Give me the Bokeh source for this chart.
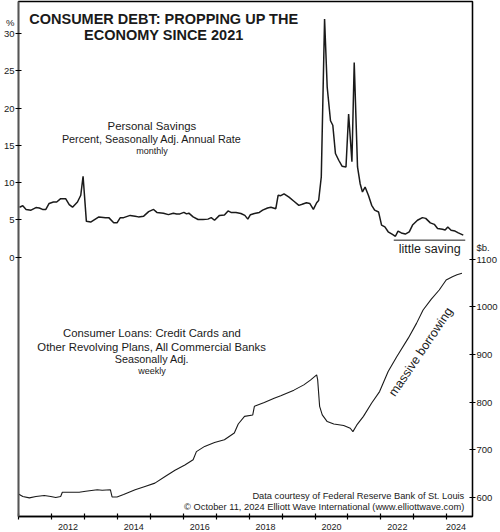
from bokeh.plotting import figure
from bokeh.models import Range1d, LinearAxis, FixedTicker, Label, CustomJSTickFormatter
from bokeh.embed import file_html
from bokeh.resources import INLINE

FONT = "Liberation Sans"
INK = "#1a1a1a"

# personal savings rate, % (monthly)
savings_year = [
    2011.03, 2011.13, 2011.23, 2011.38, 2011.53, 2011.63, 2011.73, 2011.83, 2011.93,
    2012.06, 2012.16, 2012.28, 2012.43, 2012.54, 2012.64, 2012.79, 2012.89, 2012.96,
    2013.06, 2013.19, 2013.44, 2013.64, 2013.74, 2013.89, 2013.99,
    2014.09, 2014.19, 2014.39, 2014.54, 2014.64, 2014.80, 2014.95,
    2015.10, 2015.20, 2015.40, 2015.55, 2015.70, 2015.80, 2015.90,
    2016.02, 2016.10, 2016.17, 2016.30, 2016.45, 2016.60, 2016.75, 2016.85, 2016.95,
    2017.10, 2017.25, 2017.36, 2017.45, 2017.60, 2017.75, 2017.87, 2017.96,
    2018.04, 2018.16, 2018.31, 2018.41, 2018.56, 2018.66, 2018.81, 2018.88, 2018.96,
    2019.06, 2019.21, 2019.36, 2019.51, 2019.61, 2019.74, 2019.84, 2019.95,
    2020.05, 2020.11, 2020.19, 2020.29, 2020.37, 2020.47, 2020.54, 2020.62, 2020.72, 2020.82, 2020.94,
    2021.02, 2021.12, 2021.19, 2021.29, 2021.37, 2021.44, 2021.52, 2021.62, 2021.72, 2021.81, 2021.93,
    2022.02, 2022.12, 2022.22, 2022.35, 2022.44, 2022.52, 2022.62, 2022.74, 2022.86, 2022.96,
    2023.11, 2023.26, 2023.36, 2023.50, 2023.62, 2023.72, 2023.87, 2023.95,
    2024.03, 2024.13, 2024.25, 2024.35, 2024.50,
]
savings_pct = [
    6.7, 6.9, 6.4, 6.3, 6.65, 6.6, 6.4, 6.4, 7.2,
    7.4, 7.4, 7.85, 7.85, 7.05, 6.7, 7.4, 8.3, 10.85,
    4.8, 4.7, 5.4, 5.3, 5.3, 4.6, 4.6,
    5.3, 5.3, 5.6, 5.5, 5.4, 5.5, 6.1,
    6.4, 6.0, 5.9, 5.7, 5.9, 5.8, 5.8,
    6.0, 5.8, 5.9, 5.4, 5.05, 5.05, 5.1, 5.3, 4.95,
    5.6, 5.65, 6.2, 6.0, 6.0, 5.85, 5.6, 5.1,
    5.7, 5.85, 6.0, 6.3, 6.6, 6.7, 6.5, 8.3, 8.25,
    8.5, 8.05, 7.5, 6.95, 7.1, 7.3, 7.2, 6.4,
    7.3, 7.6, 10.75, 31.95, 22.8, 18.3, 17.7, 13.9, 13.0, 12.2, 12.1,
    19.2, 12.8, 26.1, 12.1, 9.85, 8.75, 9.4, 8.3, 6.95, 6.3, 6.05,
    4.3, 4.05, 3.4, 3.05, 2.8, 3.5, 3.25, 3.1, 3.4, 4.3,
    4.95, 5.3, 5.2, 4.6, 4.4, 3.85, 3.75, 3.65,
    4.05, 3.6, 3.5, 3.25, 2.95,
]

# revolving consumer loans, $ billions (weekly)
loans_year = [
    2011.00, 2011.13, 2011.33, 2011.53, 2011.78, 2011.98,
    2012.13, 2012.28, 2012.33, 2012.54, 2012.84,
    2013.04, 2013.39, 2013.54, 2013.79, 2013.84, 2013.99,
    2014.19, 2014.54, 2014.84,
    2015.14, 2015.45, 2015.75,
    2016.05, 2016.30, 2016.40, 2016.65, 2016.95,
    2017.25, 2017.55, 2017.67, 2017.86,
    2018.11, 2018.16, 2018.46, 2018.76, 2018.96,
    2019.36, 2019.66, 2019.86,
    2020.05, 2020.08, 2020.14, 2020.22, 2020.37, 2020.57, 2020.87,
    2021.07, 2021.15, 2021.27, 2021.47, 2021.72, 2021.96,
    2022.22, 2022.48, 2022.83,
    2023.08, 2023.28, 2023.53, 2023.77, 2023.98,
    2024.17, 2024.31, 2024.46,
]
loans_bn = [
    607, 602, 599, 602, 604, 602,
    600, 602, 611, 611, 611,
    613, 616, 615, 616, 601, 601,
    606, 616, 623,
    630, 644, 657,
    668, 679, 696, 707, 715,
    721, 735, 754, 770,
    773, 791, 799, 808, 813,
    825, 836, 846,
    857, 847, 791, 773, 759, 754, 751,
    745, 738, 752, 770, 798, 822,
    864, 895, 934,
    965, 993, 1016, 1035, 1056,
    1063, 1067, 1070,
]

pct_ticks = [0, 5, 10, 15, 20, 25, 30]
bn_ticks = [600, 700, 800, 900, 1000, 1100]
year_ticks = list(range(2011, 2025))
year_labels = [2012, 2014, 2016, 2018, 2020, 2022, 2024]

# unit captions ride on the axes as extra, mark-less ticks
PCT_UNIT_AT = 31.5
BN_UNIT_AT = 1125

p = figure(width=500, height=532, output_backend="svg", toolbar_location=None,
           x_range=Range1d(2011, 2024.78), y_range=Range1d(-34.8, 34.3),
           min_border_top=1, min_border_left=16, min_border_right=27, min_border_bottom=14)
p.extra_y_ranges = {"loans": Range1d(560, 1640)}
p.grid.visible = False
p.outline_line_color = "black"
p.outline_line_width = 1.3
p.outline_line_alpha = 1

# year labels sit between the yearly tick marks
label_pos = [y + 0.5 if y < 2024 else y + 0.28 for y in year_labels]
xa = p.xaxis[0]
xa.ticker = FixedTicker(ticks=label_pos, minor_ticks=year_ticks)
xa.formatter = CustomJSTickFormatter(code="return Math.floor(tick).toString()")
xa.major_tick_in = 0
xa.major_tick_out = 0
xa.major_label_standoff = 4

ya = p.yaxis[0]
ya.ticker = FixedTicker(ticks=pct_ticks + [PCT_UNIT_AT], minor_ticks=pct_ticks)
ya.formatter = CustomJSTickFormatter(
    code="return tick > %s ? '%%' : tick.toFixed(0)" % (PCT_UNIT_AT - 1))

ra = LinearAxis(y_range_name="loans",
                ticker=FixedTicker(ticks=bn_ticks + [BN_UNIT_AT], minor_ticks=bn_ticks))
ra.formatter = CustomJSTickFormatter(
    code="return tick > %s ? '$b.' : tick.toFixed(0)" % (BN_UNIT_AT - 10))
p.add_layout(ra, "right")

for ax in (xa, ya, ra):
    ax.axis_line_color = "black"
    ax.axis_line_width = 1.3
    ax.major_label_text_font = FONT
    ax.major_label_text_font_size = "9.5px"
    ax.major_label_text_color = INK
    ax.minor_tick_in = 3
    ax.minor_tick_out = 3
    ax.minor_tick_line_color = "black"
    ax.minor_tick_line_width = 1.2
    if ax is not xa:
        ax.major_tick_in = 0
        ax.major_tick_out = 3
        ax.major_tick_line_color = None
        ax.major_label_standoff = 1
ya.axis_line_color = "#555555"
ya.axis_line_width = 1.8
xa.major_label_text_font_size = "9px"

p.line(savings_year, savings_pct, line_color=INK, line_width=1.5)
p.line(loans_year, loans_bn, y_range_name="loans", line_color=INK, line_width=1.1)


def label(x, y, text, size, align="center", bold=False, angle=0):
    p.add_layout(Label(x=x, y=y, text=text, text_font=FONT, text_font_size=size,
                       text_align=align, text_baseline="middle", text_color=INK,
                       text_font_style="bold" if bold else "normal",
                       angle=angle, angle_units="deg"))


label(2015.41, 31.9, "CONSUMER DEBT: PROPPING UP THE", "14.5px", bold=True)
label(2015.41, 29.76, "ECONOMY SINCE 2021", "14.5px", bold=True)

label(2015.05, 17.54, "Personal Savings", "11.4px")
label(2015.05, 15.8, "Percent, Seasonally Adj. Annual Rate", "10.8px")
label(2015.05, 14.19, "monthly", "9px")

label(2015.05, -10.17, "Consumer Loans: Credit Cards and", "11.3px")
label(2015.05, -12.05, "Other Revolving Plans, All Commercial Banks", "11.3px")
label(2015.05, -13.65, "Seasonally Adj.", "10.8px")
label(2015.05, -15.26, "weekly", "9px")

p.segment(x0=[2022.39], y0=[2.28], x1=[2024.56], y1=[2.28], line_color=INK, line_width=1)
label(2023.48, 1.14, "little saving", "12.5px")
label(2023.21, -12.72, "massive borrowing", "12.5px", angle=56)

label(2024.53, -32.0, "Data courtesy of Federal Reserve Bank of St. Louis", "9.3px", align="right")
label(2024.53, -33.47, "\u00a9 October 11, 2024 Elliott Wave International (www.elliottwave.com)",
      "9.3px", align="right")

open("out.html", "w").write(file_html(p, INLINE))
